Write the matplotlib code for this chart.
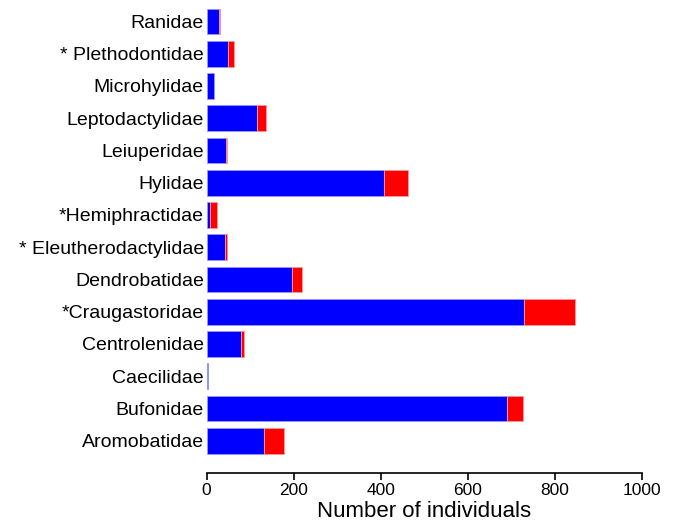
import numpy as np
import matplotlib.pyplot as plt

plt.rcParams['font.family'] = ['Liberation Sans', 'DejaVu Sans']

# bottom to top
families = ["Aromobatidae", "Bufonidae", "Caecilidae", "Centrolenidae", "*Craugastoridae",
            "Dendrobatidae", "* Eleutherodactylidae", "*Hemiphractidae", "Hylidae",
            "Leiuperidae", "Leptodactylidae", "Microhylidae", "* Plethodontidae", "Ranidae"]
blue_counts = [133, 690, 3, 80, 730, 197, 43, 8, 407, 45, 115, 16, 50, 28]
red_counts = [44, 37, 0, 5, 117, 22, 3, 16, 55, 2, 21, 0, 13, 2]
xticks = [0, 200, 400, 600, 800, 1000]

fig = plt.figure(figsize=(6.75, 5.3), dpi=100)
ax = fig.add_axes([0.306, 0.1075, 0.645, 0.8825])

y = np.arange(len(families))
ax.barh(y, blue_counts, height=0.8, color="#0000ff", edgecolor="#9999ff", linewidth=0.6)
# no outline on empty red segments
red_edges = ["#ff9999" if r > 0 else "none" for r in red_counts]
ax.barh(y, red_counts, left=blue_counts, height=0.8, color="#ff0000", edgecolor=red_edges, linewidth=0.6)

ax.set_xlim(0, 1000)
ax.set_ylim(-1.0, 13.5)
ax.set_yticks(y, labels=families, fontsize=14)
ax.set_xticks(xticks, labels=[str(t) for t in xticks], fontsize=12.5)
ax.tick_params(axis="y", length=0, pad=2)
ax.tick_params(axis="x", direction="out", length=5, width=1.2, pad=2)
ax.set_xlabel("Number of individuals", fontsize=16, labelpad=2)

for s in ["top", "right", "left"]:
    ax.spines[s].set_visible(False)
ax.spines["bottom"].set_linewidth(1.2)

fig.savefig("out.png", dpi=100)
